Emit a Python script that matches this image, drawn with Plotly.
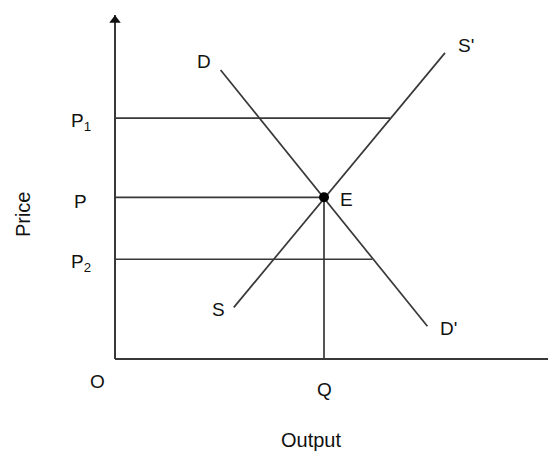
import plotly.graph_objects as go

# Diagram data (output on x, price on y, 0-100 scale)
eq_q = 47.5
eq_p = 47.0
price_levels = [70.0, 47.0, 29.0]
price_labels = ["P<sub>1</sub>", "P", "P<sub>2</sub>"]
price_line_end_x = [62.5, 47.5, 58.5]

demand_x = [24.0, 71.0]
demand_y = [84.0, 9.5]
supply_x = [27.0, 75.0]
supply_y = [15.0, 89.0]

axis_max_x = 100.0
axis_max_y = 100.0

LINE = "#383838"
TXT = "#111111"
FONT = "Liberation Sans, Arial, sans-serif"

fig = go.Figure()

def seg(xs, ys, w=1.7):
    fig.add_trace(go.Scatter(x=xs, y=ys, mode="lines",
                             line=dict(color=LINE, width=w),
                             hoverinfo="skip", showlegend=False, cliponaxis=False))

# axes
seg([0, 0], [0, axis_max_y], 2)
seg([0, axis_max_x], [0, 0], 2)
fig.add_trace(go.Scatter(x=[0], y=[axis_max_y - 1.5], mode="markers",
                         marker=dict(symbol="triangle-up", size=10, color="#111"),
                         cliponaxis=False, showlegend=False, hoverinfo="skip"))
fig.add_trace(go.Scatter(x=[axis_max_x - 0.8], y=[0], mode="markers",
                         marker=dict(symbol="triangle-right", size=10, color="#111"),
                         cliponaxis=False, showlegend=False, hoverinfo="skip"))

# price lines
for p, xe in zip(price_levels, price_line_end_x):
    seg([0, xe], [p, p])

# vertical from E
seg([eq_q, eq_q], [0, eq_p])

# demand and supply
seg(demand_x, demand_y)
seg(supply_x, supply_y)

# equilibrium point
fig.add_trace(go.Scatter(x=[eq_q], y=[eq_p], mode="markers",
                         marker=dict(size=10, color="#000"),
                         cliponaxis=False, showlegend=False, hoverinfo="skip"))

def lab(x, y, t, size=19, angle=0):
    fig.add_annotation(x=x, y=y, text=t, showarrow=False, xref="x", yref="y",
                       font=dict(family=FONT, size=size, color=TXT),
                       xanchor="center", yanchor="middle", textangle=angle)

for p, t in zip(price_levels, price_labels):
    lab(-7.8, p - 1.2, t)

lab(demand_x[0] - 3.8, demand_y[0] + 2.5, "D")
lab(demand_x[1] + 4.8, demand_y[1] - 0.5, "D'")
lab(supply_x[0] - 3.5, supply_y[0] - 0.5, "S")
lab(supply_x[1] + 4.8, supply_y[1] + 2.0, "S'")
lab(eq_q + 5.2, eq_p - 0.5, "E")
lab(-4, -6.5, "O")
lab(eq_q, -8.8, "Q")
lab(44.5, -23.5, "Output", size=20)
lab(-21.0, 42, "Price", size=20, angle=-90)

# page body has an 8px margin; shift the figure so the drawing lands where it should
W, H = 548, 447
x0_px, y0_px = 107, 351
px_per_x, px_per_y = 4.4, 3.44

fig.update_layout(
    width=W, height=H,
    margin=dict(l=0, r=0, t=0, b=0),
    paper_bgcolor="white", plot_bgcolor="white",
    xaxis=dict(range=[-x0_px / px_per_x, (W - x0_px) / px_per_x], visible=False, fixedrange=True),
    yaxis=dict(range=[-(H - y0_px) / px_per_y, y0_px / px_per_y], visible=False, fixedrange=True),
    showlegend=False,
)

fig.write_html("out.html")
